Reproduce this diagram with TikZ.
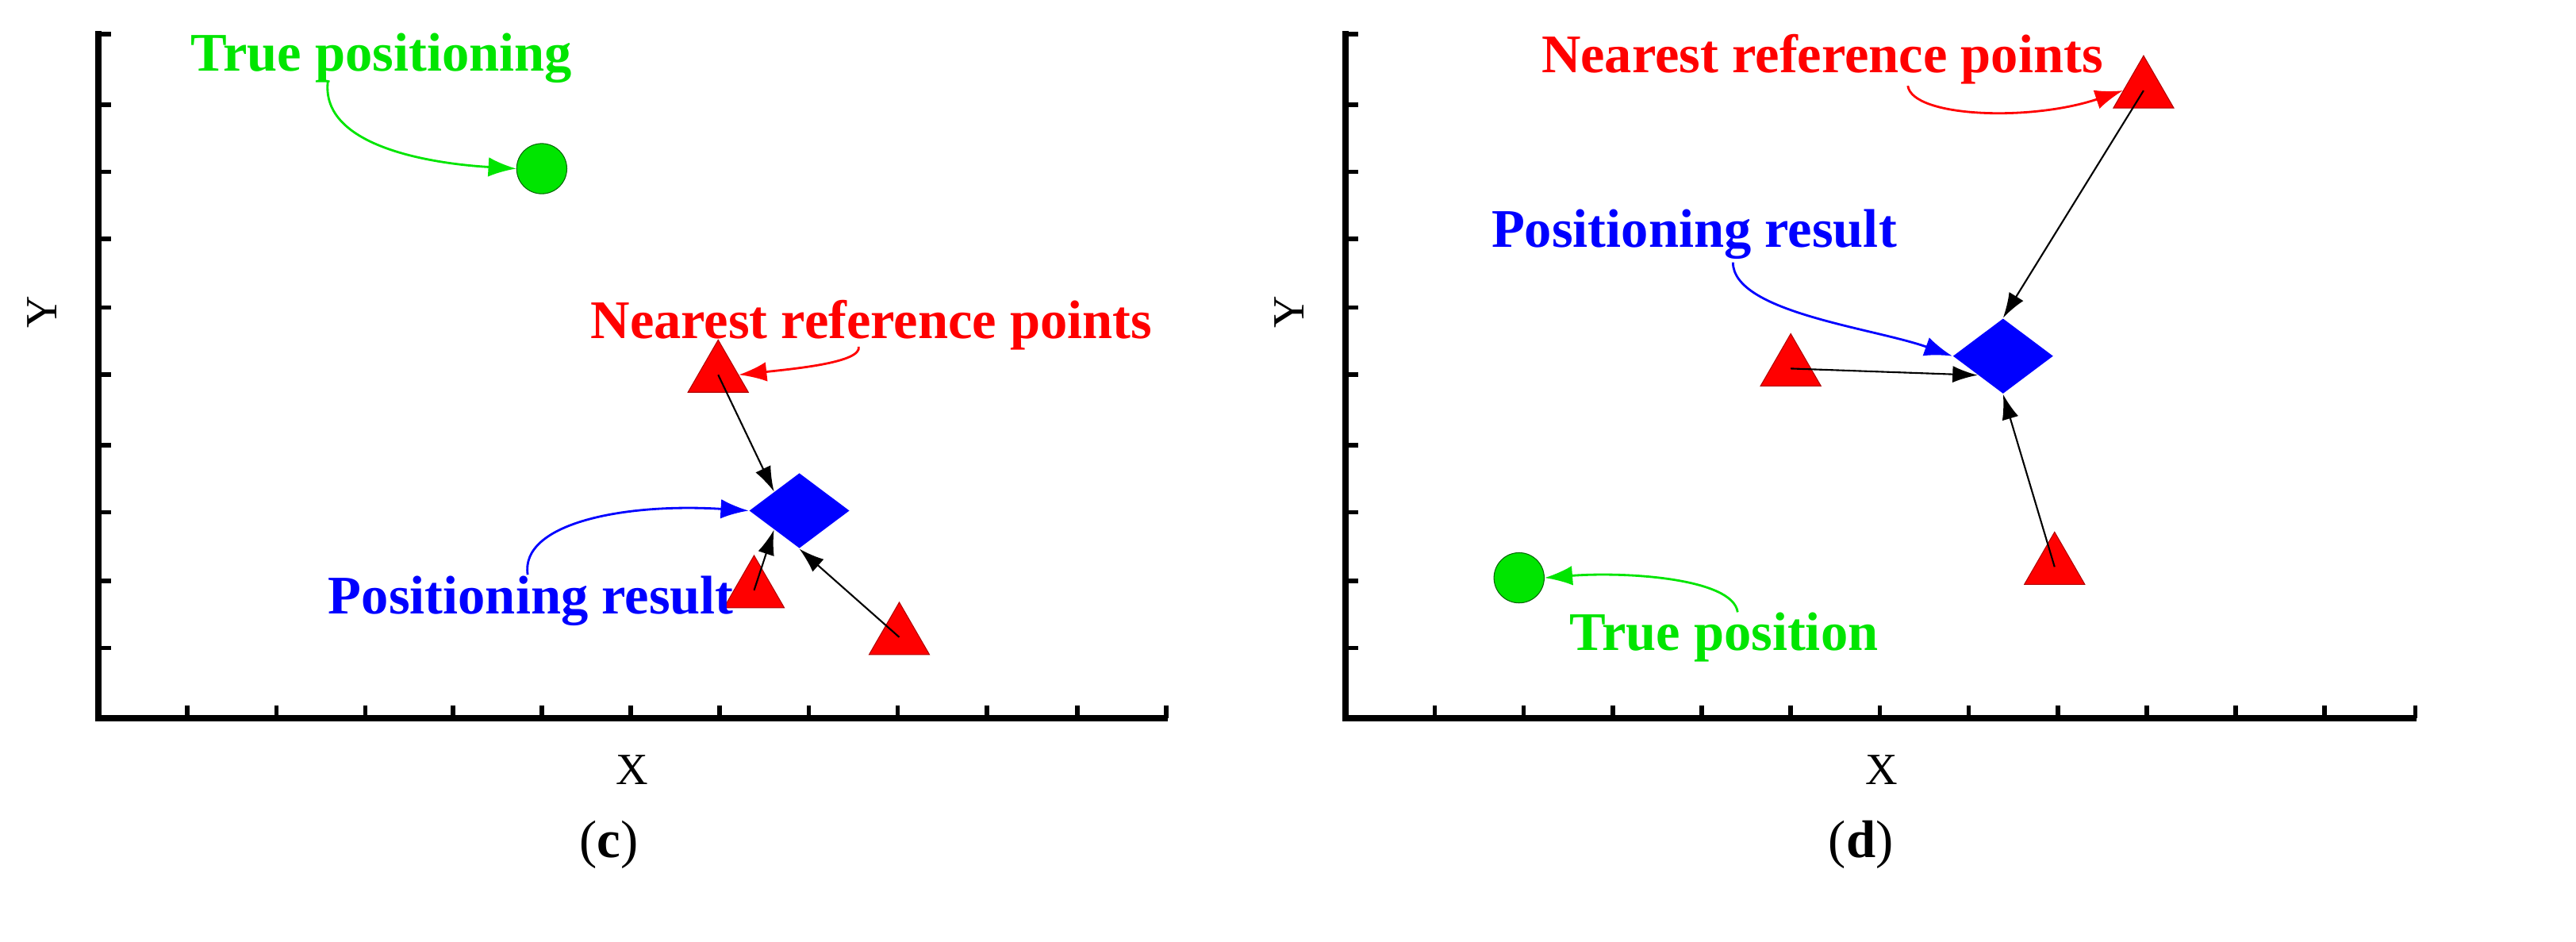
\documentclass[tikz,border=0pt]{standalone}
\usepackage{fontspec}
\setmainfont{Liberation Serif}
\usetikzlibrary{shapes.geometric,arrows.meta}
\begin{document}
\begin{tikzpicture}[x=0.01968cm,y=-0.01968cm,
 axis/.style={line width=2.2pt,black},
 tick/.style={line width=1.6pt},
 tri/.style={regular polygon,regular polygon sides=3,fill=red,draw=red!70!black,line width=0.3pt,minimum size=25pt,inner sep=0pt},
 dia/.style={diamond,fill=blue,minimum width=36pt,minimum height=27pt,inner sep=0pt},
 dot/.style={circle,fill=green!90!black,draw=green!40!black,line width=0.3pt,minimum size=18pt,inner sep=0pt},
 lab/.style={font=\fontsize{19.5}{22}\selectfont\bfseries,inner sep=0pt},
 ax/.style={font=\fontsize{16}{18}\selectfont},
 subcap/.style={font=\fontsize{19}{22}\selectfont},
 blk/.style={-{Latex[length=9pt,width=6pt]},line width=0.6pt},
 cur/.style={-{Latex[length=10pt,width=7pt]},line width=0.8pt}]
\useasboundingbox (0,0) rectangle (1650,603);
\fill[white] (0,0) rectangle (1650,603);
% ===== panel c =====
\draw[axis] (63,20) -- (63,460) -- (748,460);
\foreach \yy in {22,67,110,153,197,240,285,328,372,415} \draw[tick] (63,\yy) -- (71,\yy);
\foreach \xx in {120,177,234,290,347,404,461,518,575,632,690,747} \draw[tick] (\xx,460) -- (\xx,452);
\node[ax,rotate=90] (yc) at (27,200) {Y};
\node[ax] (xc) at (405,493) {X};
\node[subcap] (cc) at (390,541) {(\textbf{c})};
\node[dot] (gc) at (347,108) {};
\node[tri] (t1) at (460,240) {};
\node[tri] (t2) at (483,378) {};
\node[tri] (t3) at (576,408) {};
\node[dia] (dc) at (512,327) {};
\node[lab,text=green!90!black,anchor=west] (ltp) at (122,37) {True positioning};
\node[lab,text=red,anchor=west] (lnc) at (378,208) {Nearest reference points};
\node[lab,text=blue,anchor=west] (lpc) at (210,385) {Positioning result};
\coordinate (a1) at (210,52);
\draw[cur,green!90!black] (a1) .. controls (205,95) and (280,105) .. (gc.west);
\coordinate (a2) at (550,222);
\draw[cur,red] (a2) .. controls (552,232) and (510,236) .. (t1.east);
\coordinate (a3) at (338,368);
\draw[cur,blue] (a3) .. controls (333,335) and (400,322) .. (dc.west);
\draw[blk] (t1.center) -- (dc.north west);
\draw[blk] (t2.center) -- (dc.south west);
\draw[blk] (t3.center) -- (dc.south);
% ===== panel d =====
\draw[axis] (862,20) -- (862,460) -- (1548,460);
\foreach \yy in {22,67,110,153,197,240,285,328,372,415} \draw[tick] (862,\yy) -- (870,\yy);
\foreach \xx in {919,976,1033,1090,1147,1204,1261,1318,1375,1432,1489,1547} \draw[tick] (\xx,460) -- (\xx,452);
\node[ax,rotate=90] (yd) at (826,200) {Y};
\node[ax] (xd) at (1205,493) {X};
\node[subcap] (cd) at (1192,541) {(\textbf{d})};
\node[dot] (gd) at (973,370) {};
\node[tri] (u1) at (1373,58) {};
\node[tri] (u2) at (1147,236) {};
\node[tri] (u3) at (1316,363) {};
\node[dia] (dd) at (1283,228) {};
\node[lab,text=red,anchor=west] (lnd) at (987,38) {Nearest reference points};
\node[lab,text=blue,anchor=west] (lpd) at (955,150) {Positioning result};
\node[lab,text=green!90!black,anchor=west] (ltd) at (1005,408) {True position};
\coordinate (b1) at (1222,55);
\draw[cur,red] (b1) .. controls (1225,75) and (1300,78) .. (u1.west);
\coordinate (b2) at (1110,168);
\draw[cur,blue] (b2) .. controls (1110,200) and (1200,210) .. (dd.west);
\coordinate (b3) at (1113,392);
\draw[cur,green!90!black] (b3) .. controls (1110,370) and (1040,366) .. (gd.east);
\draw[blk] (u1.center) -- (dd.north);
\draw[blk] (u2.center) -- (dd.south west);
\draw[blk] (u3.center) -- (dd.south);
\end{tikzpicture}
\end{document}
